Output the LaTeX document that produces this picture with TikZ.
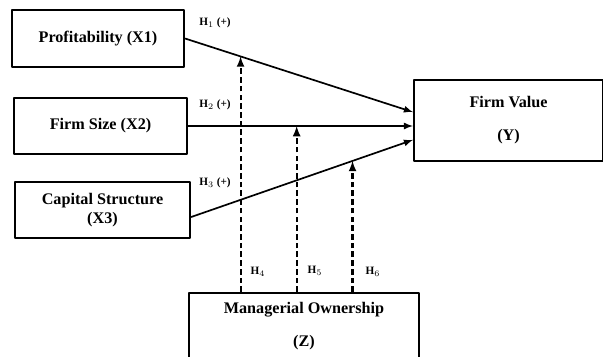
\documentclass[tikz,border=0pt]{standalone}
\usepackage{fontspec}
\setmainfont{Liberation Serif}
\begin{document}
\begin{tikzpicture}[>=latex,line join=round,x=0.025cm,y=-0.025cm,
	font=\fontsize{11.5}{13.8}\selectfont\bfseries,
	var/.style={draw,line width=1.5pt,align=center,inner sep=0pt},
	hyp/.style={font=\fontsize{8}{9}\selectfont\bfseries,inner sep=1pt},
	path/.style={->,line width=1.2pt},
	moder/.style={->,line width=1.5pt,dash pattern=on 4pt off 2.2pt}]
	\useasboundingbox (0,0) rectangle (603,356);
	\clip (0,0) rectangle (603,356);
	\node[var,minimum width=4.3cm,minimum height=1.425cm] (X1) at (98,38.5) {Profitability (X1)};
	\node[var,minimum width=4.325cm,minimum height=1.4cm] (X2) at (100.5,126) {Firm Size (X2)};
	\node[var,minimum width=4.375cm,minimum height=1.4cm] (X3) at (102.5,210) {Capital Structure\\(X3)};
	\node[var,minimum width=4.725cm,minimum height=2.025cm] (Y) at (508.5,120.5) {Firm Value\\[9.7pt](Y)};
	\node[var,minimum width=5.75cm,minimum height=1.65cm] (Z) at (304,326) {Managerial Ownership\\[9.7pt](Z)};
	% direct paths
	\draw[path] (X1.east) -- coordinate[pos=0.2435] (m1) ([yshift=6pt]Y.west);
	\draw[path] (X2.east) -- coordinate[pos=0.483] (m2) (Y.west |- X2.east);
	\draw[path] ([yshift=-5pt]X3.east) -- coordinate[pos=0.7277] (m3) ([yshift=-13.8pt]Y.west);
	% moderation
	\foreach \m in {1,2,3}
	\draw[moder] (Z.north -| m\m) -- (m\m);
	\foreach \n/\c/\l in {h1/{215,23}/H$_1$ (+),h2/{215,105}/H$_2$ (+),h3/{215,183}/H$_3$ (+),h4/{258,272}/H$_4$,h5/{315,271}/H$_5$,h6/{373,272}/H$_6$}
	\node[hyp] (\n) at (\c) {\l};
\end{tikzpicture}
\end{document}
